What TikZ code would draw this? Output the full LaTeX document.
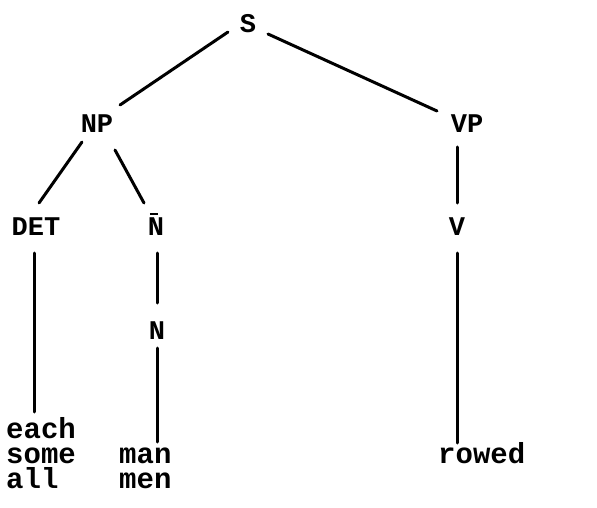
\documentclass[tikz,border=0pt]{standalone}
\usepackage{fontspec}
\newfontfamily\tw{Liberation Mono}
\begin{document}
\begin{tikzpicture}[x=1pt,y=-1pt,
  lab/.style={font=\tw\bfseries\fontsize{27}{27}\selectfont, inner sep=3pt},
  leaf/.style={font=\tw\bfseries\fontsize{29}{29}\selectfont, inner sep=0pt, anchor=base west},
  edge/.style={line width=3pt, line cap=round}]
\useasboundingbox (0,0) rectangle (597,508);
\node[lab] (S) at (248,24) {S};
\node[lab] (NP) at (97,124) {NP};
\node[lab] (VP) at (467,124) {VP};
\node[lab] (DET) at (36,227) {DET};
\node[lab] (Nb) at (156,227) {\rlap{\smash{\hspace{2pt}\rule[21pt]{8pt}{2.2pt}}}N};
\node[lab] (V) at (457,227) {V};
\node[lab] (N) at (157,331) {N};
\node[leaf] (each) at (6,438) {each};
\node[leaf] (some) at (6,463) {some};
\node[leaf] (all) at (6,488) {all};
\node[leaf] (man) at (119,463) {man};
\node[leaf] (men) at (119,488) {men};
\node[leaf] (rowed) at (438,463) {rowed};
\draw[edge] ([shift={(-20,8)}]S.center) -- ([shift={(23,-19)}]NP.center);
\draw[edge] ([shift={(20,10)}]S.center) -- ([shift={(-30,-13)}]VP.center);
\draw[edge] ([shift={(-15,18)}]NP.center) -- ([shift={(3,-24)}]DET.center);
\draw[edge] ([shift={(18,26)}]NP.center) -- ([shift={(-12,-24)}]Nb.center);
\draw[edge] ([shift={(-10,23)}]VP.center) -- ([shift={(0,-24)}]V.center);
\draw[edge] ([shift={(-2,26)}]DET.center) -- ([shift={(28,-26)}]each.base west);
\draw[edge] ([shift={(1,26)}]Nb.center) -- ([shift={(0,-28)}]N.center);
\draw[edge] ([shift={(0,17)}]N.center) -- ([shift={(38,-21)}]man.base west);
\draw[edge] ([shift={(0,26)}]V.center) -- ([shift={(19,-20)}]rowed.base west);
\end{tikzpicture}
\end{document}
